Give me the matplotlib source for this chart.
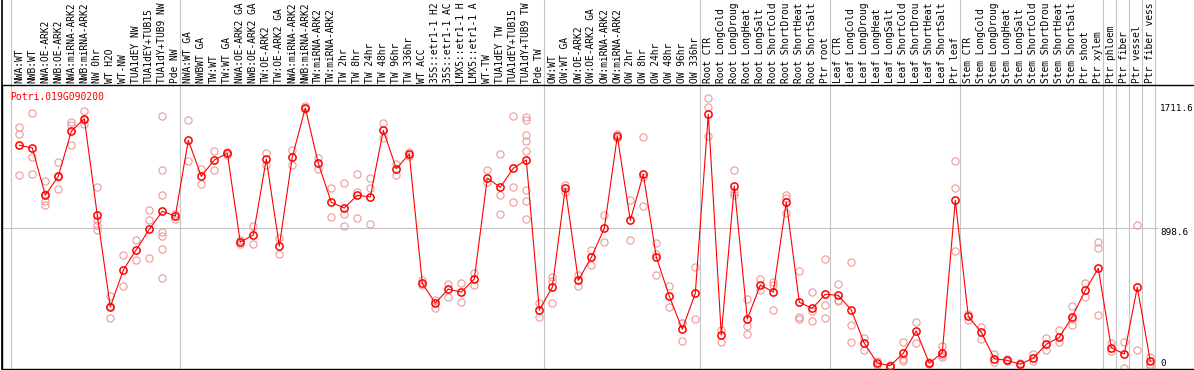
import matplotlib
matplotlib.use("Agg")
import matplotlib.pyplot as plt
from matplotlib.transforms import blended_transform_factory

# ---------------- data ----------------
gene_id = "Potri.019G090200"

# condition labels as they are shown (the chart cuts them to 14 characters)
conditions = [
    "NWA:WT", "NWB:WT", "NWA:OE-ARK2", "NWB:OE-ARK2", "NWA:miRNA-ARK2", "NWB:miRNA-ARK2",
    "NW 0hr", "WT H2O", "WT-NW", "TUA1dEY NW", "TUA1dEY+TUB15", "TUA1dY+TUB9 NW", "Pde NW",
    "NWA:WT GA", "NWBWT GA", "TW:WT", "TW:WT GA", "NWA:OE-ARK2 GA", "NWB:OE-ARK2 GA",
    "TW:OE-ARK2", "TW:OE-ARK2 GA", "NWA:miRNA-ARK2", "NWB:miRNA-ARK2",
    "TW:miRNA-ARK2", "TW:miRNA-ARK2",
    "TW 2hr", "TW 8hr", "TW 24hr", "TW 48hr", "TW 96hr", "TW 336hr",
    "WT ACC", "35S::etr1-1 H2", "35S::etr1-1 AC", "LMX5::etr1-1 H", "LMX5::etr1-1 A",
    "WT-TW", "TUA1dEY TW", "TUA1dEY+TUB15", "TUA1dY+TUB9 TW", "Pde TW",
    "OW:WT", "OW:WT GA", "OW:OE-ARK2", "OW:OE-ARK2 GA", "OW:miRNA-ARK2", "OW:miRNA-ARK2",
    "OW 2hr", "OW 8hr", "OW 24hr", "OW 48hr", "OW 96hr", "OW 336hr",
    "Root CTR", "Root LongCold", "Root LongDroug", "Root LongHeat", "Root LongSalt",
    "Root ShortCold", "Root ShortDrou", "Root ShortHeat", "Root ShortSalt", "Ptr root",
    "Leaf CTR", "Leaf LongCold", "Leaf LongDroug", "Leaf LongHeat", "Leaf LongSalt",
    "Leaf ShortCold", "Leaf ShortDrou", "Leaf ShortHeat", "Leaf ShortSalt", "Ptr leaf",
    "Stem CTR", "Stem LongCold", "Stem LongDroug", "Stem LongHeat", "Stem LongSalt",
    "Stem ShortCold", "Stem ShortDrou", "Stem ShortHeat", "Stem ShortSalt", "Ptr shoot",
    "Ptr xylem", "Ptr phloem", "Ptr fiber", "Ptr vessel", "Ptr fiber vess",
]

mean_expr = [
    1435, 1417, 1112, 1234, 1525, 1606, 983, 391, 629, 761, 892, 1008, 978,
    1467, 1234, 1340, 1383, 810, 855, 1346, 784, 1359, 1675, 1318, 1066,
    1030, 1112, 1101, 1531, 1284, 1378,
    543, 416, 505, 487, 571,
    1223, 1163, 1286, 1340, 371,
    518, 1159, 563, 711, 898, 1493,
    950, 1247, 713, 460, 247, 479,
    1635, 210, 1170, 313, 533, 487, 1068, 421, 382, 473,
    466, 371, 156, 29, 12, 92, 236, 27, 96, 1079,
    330, 227, 57, 46, 21, 61, 150, 195, 328, 498,
    640, 128, 87, 518, 40,
]

replicates = [
    [1553, 1505, 1241], [1643, 1357, 1247], [1202, 1077, 1047, 1120], [1327, 1152, 1228],
    [1583, 1568, 1434], [1654, 1572, 1596], [1165, 954, 922, 886], [460, 320, 398],
    [724, 524], [821, 696], [1017, 950, 705], [1622, 1273, 1112, 875, 847, 763, 576],
    [991, 959], [1600, 1331], [1284, 1187], [1396, 1273], [1389, 1374], [800, 820],
    [915, 795], [1385, 1305], [836, 731], [1404, 1305], [1690, 1671], [1353, 1280],
    [1157, 972], [1189, 989, 912], [1247, 1131, 965], [1223, 1159, 926], [1578, 1482],
    [1314, 1245], [1389, 1367], [563, 535], [438, 384], [539, 453], [543, 421],
    [608, 531], [1273, 1196], [1378, 1116, 991], [1622, 1163, 1066],
    [1615, 1596, 1503, 1460, 1396, 1144, 1073, 959], [416, 328], [584, 560, 416],
    [1180, 1131], [599, 528], [757, 664], [985, 812], [1480, 1505], [1083, 821],
    [1486, 1228, 1041], [804, 735, 595], [524, 393], [290, 285, 169], [647, 313],
    [1740, 1680, 1493], [244, 163], [1273, 1131, 1116], [442, 266, 218], [571, 498],
    [552, 531, 371], [1112, 997, 1095], [623, 326, 314], [487, 365, 300],
    [698, 402, 320], [537, 437, 427], [681, 272, 163], [190, 111], [44, 18], [18, 5],
    [163, 57, 40], [292, 160], [20, 35], [141, 83, 65], [1331, 1157, 750], [309, 345],
    [261, 184], [87, 34], [52, 40], [30, 13], [89, 40], [190, 111], [240, 165],
    [399, 310, 276], [545, 455], [810, 770, 337], [156, 109], [163, 0], [920, 111],
    [70, 23, 10],
]

group_ends = [-1, 12, 40, 52, 62, 72, 83, 84, 85, 86, 87]
ytick_values = [0, 898.6, 1711.6]
ytick_labels = ["0", "898.6", "1711.6"]

# ---------------- layout ----------------
W, H = 1194, 370
fig = plt.figure(figsize=(W / 100, H / 100), dpi=100)
left_px, right_px, top_px, bot_px = 2, 1194, 85, 369
ax = fig.add_axes([left_px / W, (H - bot_px) / H, (right_px - left_px) / W, (bot_px - top_px) / H])

x0_px, step_px = 19.3, 13.0
zero_px, px_per_unit = 367.5, 0.1549
ax.set_xlim((left_px - x0_px) / step_px, (right_px - x0_px) / step_px)
ax.set_ylim((zero_px - bot_px) / px_per_unit, (zero_px - top_px) / px_per_unit)

mono = "DejaVu Sans Mono"
fs = 6.9
red = "#ff0000"
pink = "#ee9898"
grey = "#c4c4c4"

for s in ["left", "bottom", "top"]:
    ax.spines[s].set_color("black")
    ax.spines[s].set_linewidth(1.0)
ax.spines["right"].set_visible(False)
ax.set_xticks([])
ax.set_yticks([])

ext = (bot_px + 5) / (bot_px - top_px)
# separators between groups (extend through label area)
for g in group_ends:
    ax.axvline(g + 0.38, ymin=0, ymax=ext, color=grey, lw=0.8, clip_on=False, zorder=1)
# left border through the label area
ax.axvline(ax.get_xlim()[0], ymin=0, ymax=ext, color="black", lw=1.2, clip_on=False, zorder=5)
# mid gridline
ax.hlines(ytick_values[1], ax.get_xlim()[0], len(conditions) - 0.4, color=grey, lw=0.8, zorder=1)

x = list(range(len(conditions)))
# replicates
rx, ry = [], []
for i, reps in enumerate(replicates):
    for v in reps:
        rx.append(i)
        ry.append(v)
ax.plot(rx, ry, ls="none", marker="o", ms=5.2, mfc="none", mec=pink, mew=0.8, zorder=2)
# mean line and markers
ax.plot(x, mean_expr, color=red, lw=0.8, zorder=3)
ax.plot(x, mean_expr, ls="none", marker="o", ms=5.2, mfc="none", mec=red, mew=1.1, zorder=4)

# condition labels (top, rotated)
trans = blended_transform_factory(ax.transData, ax.transAxes)
ylab = 1 + 2.3 / (bot_px - top_px)
for i, lab in enumerate(conditions):
    ax.text(i, ylab, lab, rotation=90, ha="center", va="bottom", transform=trans,
            family=mono, fontsize=fs, color="black", clip_on=False)

# gene id
ax.text((9.7 - x0_px) / step_px, (zero_px - 100.5) / px_per_unit, gene_id, ha="left",
        va="baseline", family=mono, fontsize=7.0, color=red)

# value labels at right
xr = (1160.0 - x0_px) / step_px
baseline_px = {0: 365.5, 898.6: 235.5, 1711.6: 110.8}
for v, lab in zip(ytick_values, ytick_labels):
    yy = v - (baseline_px[v] - (zero_px - v * px_per_unit)) / px_per_unit
    ax.text(xr, yy, lab, ha="left", va="baseline", family=mono, fontsize=6.7,
            color="black", clip_on=False)

fig.savefig("out.png", dpi=100)
